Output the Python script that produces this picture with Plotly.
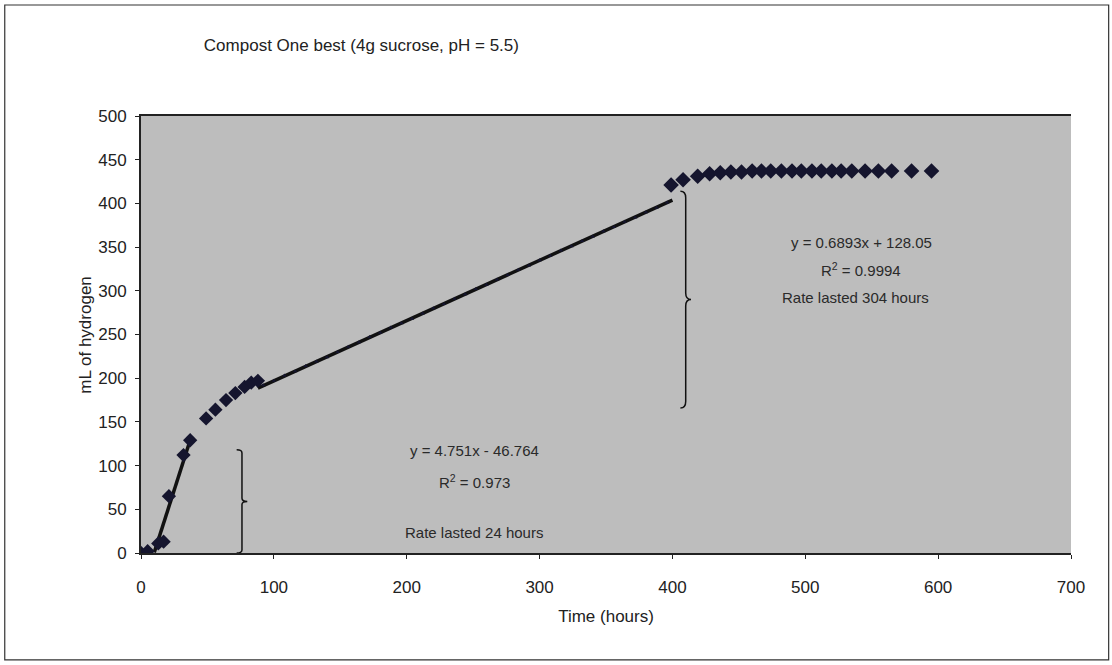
import plotly.graph_objects as go

# ---- data ----
early_x = [0, 5, 13, 17, 21, 32, 37, 49, 56, 64, 71, 78, 83, 88]
early_y = [0, 2, 11, 13, 65, 112, 129, 154, 164, 175, 183, 190, 195, 197]

mid_x = [92, 100, 108, 116, 124, 132, 140, 148, 156, 164, 172, 180, 188, 196, 204,
         212, 220, 228, 236, 244, 252, 260, 268, 276, 284, 292, 300, 308, 316, 324,
         332, 340, 348, 356, 364, 372, 380, 388, 396]
mid_y = [192, 197, 203, 208, 214, 219, 224, 230, 236, 241, 247, 252, 258, 263, 268,
         274, 280, 285, 291, 296, 302, 307, 313, 318, 324, 329, 335, 340, 346, 351,
         357, 362, 368, 373, 379, 384, 390, 395, 401]

late_x = [399, 408, 419, 428, 436, 444, 452, 460, 467, 474, 482, 490, 497, 505, 512,
          520, 527, 535, 545, 555, 565, 580, 595]
late_y = [421, 427, 431, 434, 435, 436, 436, 437, 437, 437, 437, 437, 437, 437, 437,
          437, 437, 437, 437, 437, 437, 437, 437]

# trendlines (slope, intercept, x-span)
fit1 = (4.751, -46.764, 10, 38)
fit2 = (0.6893, 128.05, 88, 400)

title = "Compost One best (4g sucrose, pH = 5.5)"
x_title = "Time (hours)"
y_title = "mL of hydrogen"

mark_color = "#15152e"
fnt = "Liberation Sans, Arial, sans-serif"
txt_col = "#2a2a2a"

fig = go.Figure()

for (m, b, x0, x1) in [fit1, fit2]:
    fig.add_trace(go.Scatter(x=[x0, x1], y=[m * x0 + b, m * x1 + b], mode="lines",
                             line=dict(color="#111111", width=3.5), showlegend=False,
                             hoverinfo="skip"))

fig.add_trace(go.Scatter(x=early_x, y=early_y, mode="markers",
                         marker=dict(symbol="diamond", size=11, color=mark_color),
                         showlegend=False))
fig.add_trace(go.Scatter(x=mid_x, y=mid_y, mode="markers",
                         marker=dict(symbol="triangle-up", size=4, color=mark_color),
                         showlegend=False))
fig.add_trace(go.Scatter(x=late_x, y=late_y, mode="markers",
                         marker=dict(symbol="diamond", size=12, color=mark_color),
                         showlegend=False))

annots = [
    (542, 355, "y = 0.6893x + 128.05"),
    (542, 324, "R<sup>2</sup> = 0.9994"),
    (538, 292, "Rate lasted 304 hours"),
    (251, 117, "y = 4.751x - 46.764"),
    (251, 82, "R<sup>2</sup> = 0.973"),
    (251, 23, "Rate lasted 24 hours"),
]
for x, y, t in annots:
    fig.add_annotation(x=x, y=y, text=t, showarrow=False,
                       font=dict(family=fnt, size=15, color=txt_col))

# y-axis title placed as rotated text
fig.add_annotation(x=-0.06, y=0.5, xref="paper", yref="paper", text=y_title,
                   textangle=-90, showarrow=False, xanchor="center", yanchor="middle",
                   font=dict(family=fnt, size=17, color="#222222"))

def brace(x, y0, y1, w):
    ym = (y0 + y1) / 2
    c = (y1 - y0) * 0.03
    return (f"M {x - w} {y1} Q {x} {y1} {x} {y1 - c} L {x} {ym + c} "
            f"Q {x} {ym} {x + w} {ym} Q {x} {ym} {x} {ym - c} "
            f"L {x} {y0 + c} Q {x} {y0} {x - w} {y0}")

fig.add_shape(type="path", path=brace(410, 166, 414, 4), xref="x", yref="y",
              line=dict(color="#111111", width=1.5))
fig.add_shape(type="path", path=brace(76, 0, 118, 4), xref="x", yref="y",
              line=dict(color="#111111", width=1.5))

# outer border of chart
fig.add_shape(type="rect", xref="paper", yref="paper", x0=-0.1465, x1=1.0405,
              y0=-0.2445, y1=1.254, line=dict(color="#333333", width=1.2),
              fillcolor="rgba(0,0,0,0)", layer="below")

fig.update_layout(
    width=1112, height=665,
    margin=dict(l=141, r=41, t=116, b=112),
    paper_bgcolor="white", plot_bgcolor="#bdbdbd",
    title=dict(text=title, x=0.325, xanchor="center", y=0.932, yanchor="middle",
               font=dict(family=fnt, size=17, color="#222222")),
    font=dict(family=fnt, size=17, color="#222222"),
    xaxis=dict(range=[0, 700], dtick=100, tick0=0, showgrid=False, zeroline=False,
               showline=True, linecolor="#222222", linewidth=2, mirror=True,
               ticks="outside", ticklen=4, tickcolor="#222222",
               ticklabelstandoff=14,
               title=dict(text=x_title, standoff=14, font=dict(size=17)),
               tickfont=dict(size=17)),
    yaxis=dict(range=[0, 500], dtick=50, tick0=0, showgrid=False, zeroline=False,
               showline=True, linecolor="#222222", linewidth=2,
               ticks="outside", ticklen=4, tickcolor="#222222",
               ticklabelstandoff=5,
               tickfont=dict(size=17)),
)

fig.write_html("out.html")
